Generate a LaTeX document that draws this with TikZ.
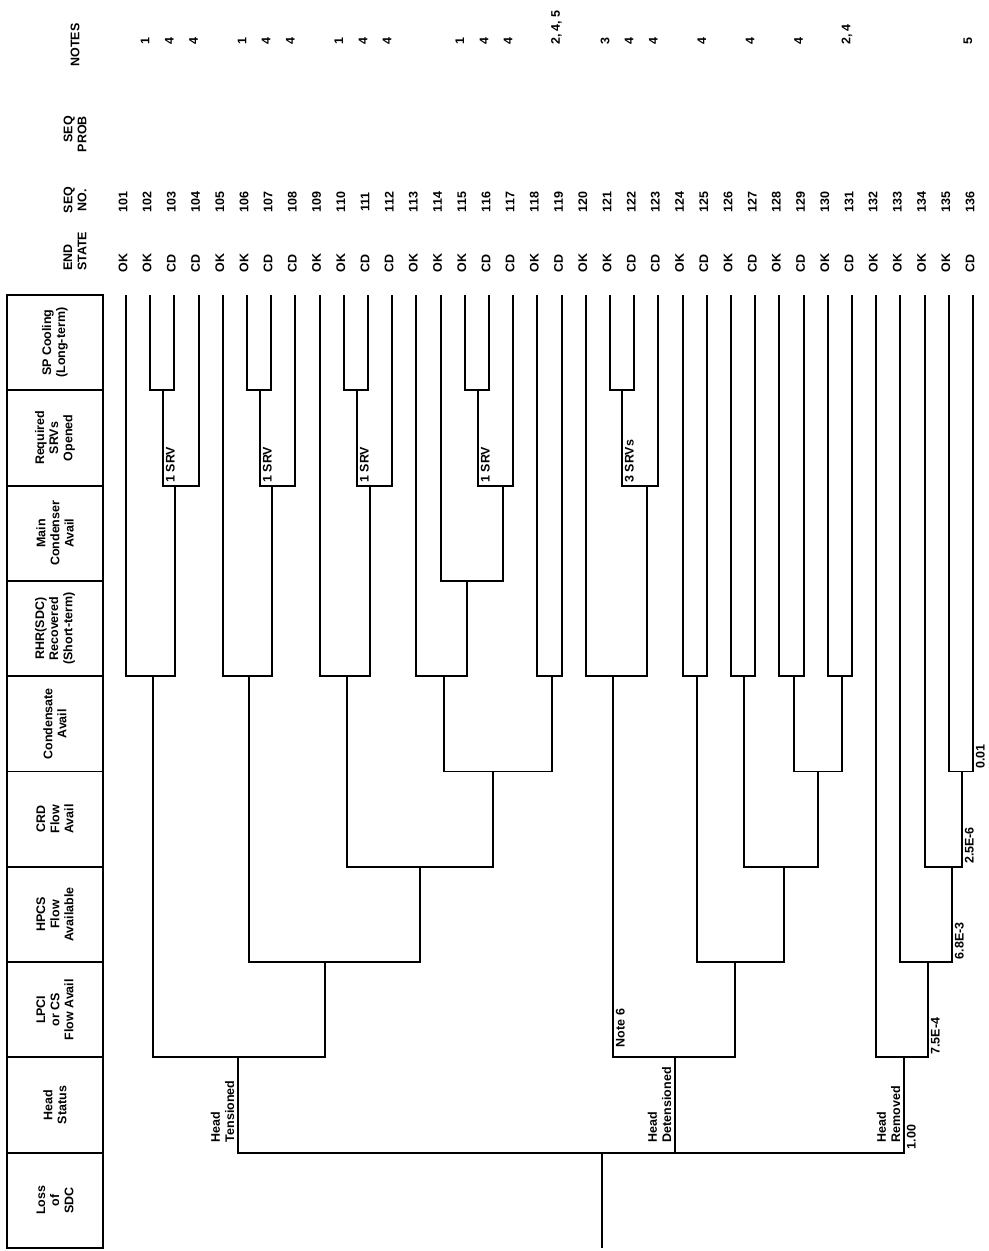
\documentclass[tikz,border=0pt]{standalone}
\usepackage{fontspec}
\setmainfont{Liberation Sans}

\tikzset{
  branch/.style={line width=1.1pt},
  headbox/.style={rectangle, draw, line width=1.1pt, rotate=90, align=center,
    minimum width=1.906cm, minimum height=1.92cm, inner sep=0pt,
    font=\bfseries\fontsize{7.1}{8}\selectfont},
  coltext/.style={rotate=90, inner sep=1pt, align=center,
    font=\bfseries\fontsize{7.1}{8}\selectfont},
  tag/.style={coltext, anchor=north west, inner sep=1.5pt},
  brlabel/.style={coltext, anchor=south west, align=left, inner sep=2pt}
}

\begin{document}
\begin{tikzpicture}[x=0.02cm, y=-0.02cm]
  \useasboundingbox (0,0) rectangle (989,1251);

  % event headings
  \node[headbox] (spc) at (55,342.65) {SP Cooling\\(Long-term)};
  \node[headbox] (srv) at (55,437.95) {Required\\SRVs\\Opened};
  \node[headbox] (mcd) at (55,533.25) {Main\\Condenser\\Avail};
  \node[headbox] (rhr) at (55,628.55) {RHR(SDC)\\Recovered\\(Short-term)};
  \node[headbox] (cnd) at (55,723.85) {Condensate\\Avail};
  \node[headbox] (crd) at (55,819.15) {CRD\\Flow\\Avail};
  \node[headbox] (hpc) at (55,914.45) {HPCS\\Flow\\Available};
  \node[headbox] (lpc) at (55,1009.75) {LPCI\\or CS\\Flow Avail};
  \node[headbox] (hds) at (55,1105.05) {Head\\Status};
  \node[headbox] (los) at (55,1200.35) {Loss\\of\\SDC};

  % column headings
  \node[coltext, align=left, anchor=west] (endst) at (75,273) {END\\STATE};
  \node[coltext] (seqno) at (75,200) {SEQ\\NO.};
  \node[coltext, align=right, anchor=east] (seqpr) at (75,114) {SEQ\\PROB};
  \node[coltext] (notes) at (75,45) {NOTES};

  % sequence ends
  \foreach \n/\st in {101/OK,102/OK,103/CD,104/CD,105/OK,106/OK,107/CD,108/CD,
    109/OK,110/OK,111/CD,112/CD,113/OK,114/OK,115/OK,116/CD,117/CD,118/OK,
    119/CD,120/OK,121/OK,122/CD,123/CD,124/OK,125/CD,126/OK,127/CD,128/OK,
    129/CD,130/OK,131/CD,132/OK,133/OK,134/OK,135/OK,136/CD} {
    \coordinate (e\n) at ({126+24.2*(\n-101)},295);
    \node[coltext] (st\n) at ({123+24.2*(\n-101)},263) {\st};
    \node[coltext] (no\n) at ({123+24.2*(\n-101)},202) {\n};
  }
  \foreach \n/\nt in {102/1,103/4,104/4,106/1,107/4,108/4,110/1,111/4,112/4,
    115/1,116/4,117/4,119/{2, 4, 5},121/3,122/4,123/4,125/4,127/4,129/4,
    131/{2, 4},136/5}
    \node[coltext, anchor=west] (nt\n) at ({121+24.2*(\n-101)},47) {\nt};

  % branch points
  \coordinate (root) at (602,1248);
  \coordinate (hs) at (602,1152.7);
  % head tensioned
  \coordinate (tLp) at (238,1057.4);
  \coordinate (tRa) at (153,676.2);
  \coordinate (tSa) at (175,485.6);
  \coordinate (tPa) at (163,390.3);
  \coordinate (tHp) at (325,962.1);
  \coordinate (tRb) at (249,676.2);
  \coordinate (tSb) at (272,485.6);
  \coordinate (tPb) at (260,390.3);
  \coordinate (tCr) at (420,866.8);
  \coordinate (tRc) at (347,676.2);
  \coordinate (tSc) at (370,485.6);
  \coordinate (tPc) at (357,390.3);
  \coordinate (tCo) at (493,771.5);
  \coordinate (tRd) at (444,676.2);
  \coordinate (tMc) at (467,580.9);
  \coordinate (tSd) at (503,485.6);
  \coordinate (tPd) at (478,390.3);
  \coordinate (tRe) at (552,676.2);
  % head detensioned
  \coordinate (dLp) at (675,1057.4);
  \coordinate (dRa) at (613,676.2);
  \coordinate (dSa) at (647,485.6);
  \coordinate (dPa) at (622,390.3);
  \coordinate (dHp) at (735,962.1);
  \coordinate (dRb) at (697,676.2);
  \coordinate (dCr) at (784,866.8);
  \coordinate (dRc) at (744,676.2);
  \coordinate (dCo) at (818,771.5);
  \coordinate (dRd) at (794,676.2);
  \coordinate (dRe) at (842,676.2);
  % head removed
  \coordinate (rLp) at (904,1057.4);
  \coordinate (rHp) at (928,962.1);
  \coordinate (rCr) at (952,866.8);
  \coordinate (rCo) at (962,771.5);

  % branches: success / split / failure
  \draw[branch] (root) -- (hs);
  \draw[branch] (hs) -| (dLp);
  \foreach \l/\p/\r in {tLp/hs/rLp,
    tRa/tLp/tHp, e101/tRa/tSa, tPa/tSa/e104, e102/tPa/e103,
    tRb/tHp/tCr, e105/tRb/tSb, tPb/tSb/e108, e106/tPb/e107,
    tRc/tCr/tCo, e109/tRc/tSc, tPc/tSc/e112, e110/tPc/e111,
    tRd/tCo/tRe, e113/tRd/tMc, e114/tMc/tSd, tPd/tSd/e117, e115/tPd/e116,
    e118/tRe/e119,
    dRa/dLp/dHp, e120/dRa/dSa, dPa/dSa/e123, e121/dPa/e122,
    dRb/dHp/dCr, e124/dRb/e125, dRc/dCr/dCo, e126/dRc/e127,
    dRd/dCo/dRe, e128/dRd/e129, e130/dRe/e131,
    e132/rLp/rHp, e133/rHp/rCr, e134/rCr/rCo, e135/rCo/e136}
    \draw[branch] (\l) |- (\p) -| (\r);

  % branch labels
  \node[brlabel] (lten) at (238,1146) {Head\\Tensioned};
  \node[brlabel] (ldet) at (675,1146) {Head\\Detensioned};
  \node[brlabel] (lrem) at (904,1146) {Head\\Removed};
  \node[tag] (pone) at (904,1152) {1.00};
  \node[tag] (note6) at (613,1050) {Note 6};
  \node[tag] (srva) at (tPa |- tSa) {1 SRV};
  \node[tag] (srvb) at (tPb |- tSb) {1 SRV};
  \node[tag] (srvc) at (tPc |- tSc) {1 SRV};
  \node[tag] (srvd) at (tPd |- tSd) {1 SRV};
  \node[tag] (srve) at (dPa |- dSa) {3 SRVs};
  \node[tag] (plp) at (rHp |- rLp) {7.5E-4};
  \node[tag] (php) at (rCr |- rHp) {6.8E-3};
  \node[tag] (pcr) at (rCo |- rCr) {2.5E-6};
  \node[tag] (pco) at (e136 |- rCo) {0.01};
\end{tikzpicture}
\end{document}
